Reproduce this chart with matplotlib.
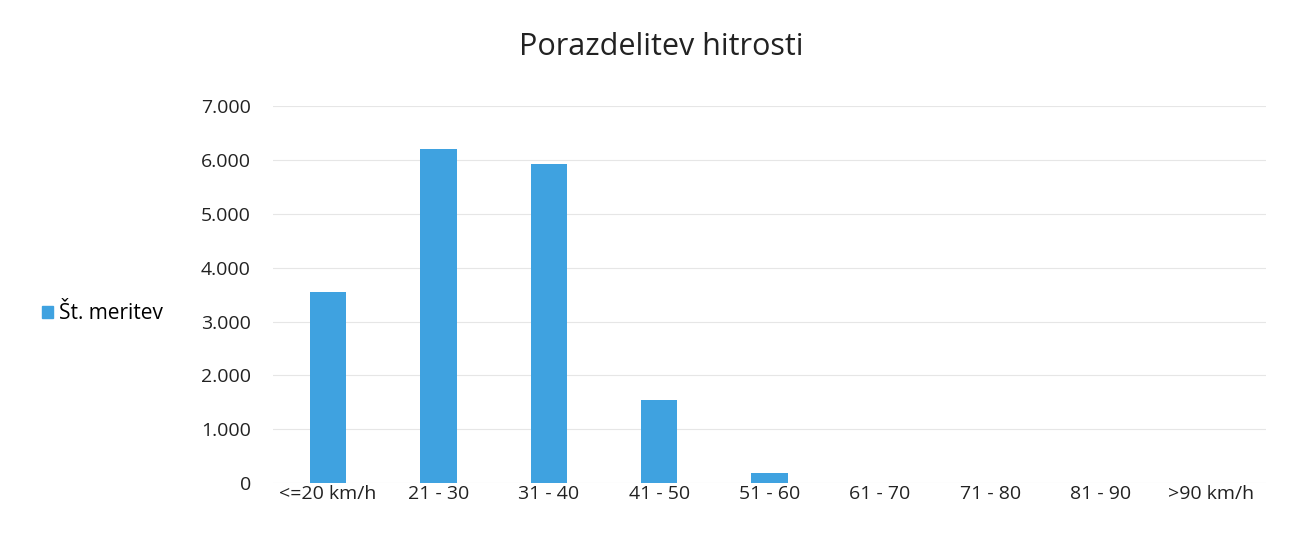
import matplotlib.pyplot as plt
from matplotlib.patches import Patch

# podatki
kategorije = ['<=20 km/h', '21 - 30', '31 - 40', '41 - 50', '51 - 60',
              '61 - 70', '71 - 80', '81 - 90', '>90 km/h']
st_meritev = [3550, 6210, 5930, 1550, 185, 5, 0, 0, 0]
y_ticks = [0, 1000, 2000, 3000, 4000, 5000, 6000, 7000]
y_labels = ['0', '1.000', '2.000', '3.000', '4.000', '5.000', '6.000', '7.000']

plt.rcParams['font.family'] = ['Open Sans', 'DejaVu Sans']

fig = plt.figure(figsize=(13, 5.41), dpi=100)
ax = fig.add_axes([0.21, 0.107, 0.764, 0.697])

barva = '#3fa2e0'
ax.bar(kategorije, st_meritev, width=0.33, color=barva, zorder=3)

ax.set_ylim(0, 7000)
ax.set_xlim(-0.5, len(kategorije) - 0.5)
ax.set_yticks(y_ticks)
ax.set_yticklabels(y_labels)
ax.grid(axis='y', color='#e6e6e6', linewidth=0.8, zorder=0)
for s in ax.spines.values():
    s.set_visible(False)
ax.tick_params(length=0, labelsize=14, colors='#222222')
ax.tick_params(axis='y', pad=16)
ax.tick_params(axis='x', pad=1)

fig.suptitle('Porazdelitev hitrosti', x=0.509, y=0.94, fontsize=22, color='#222222')

fig.legend(handles=[Patch(color=barva, label='Št. meritev')],
           loc='center left', bbox_to_anchor=(0.018, 0.42), frameon=False,
           fontsize=15, handlelength=0.5, handleheight=0.5, handletextpad=0.3)

fig.savefig('out.png', dpi=100, facecolor='white')
